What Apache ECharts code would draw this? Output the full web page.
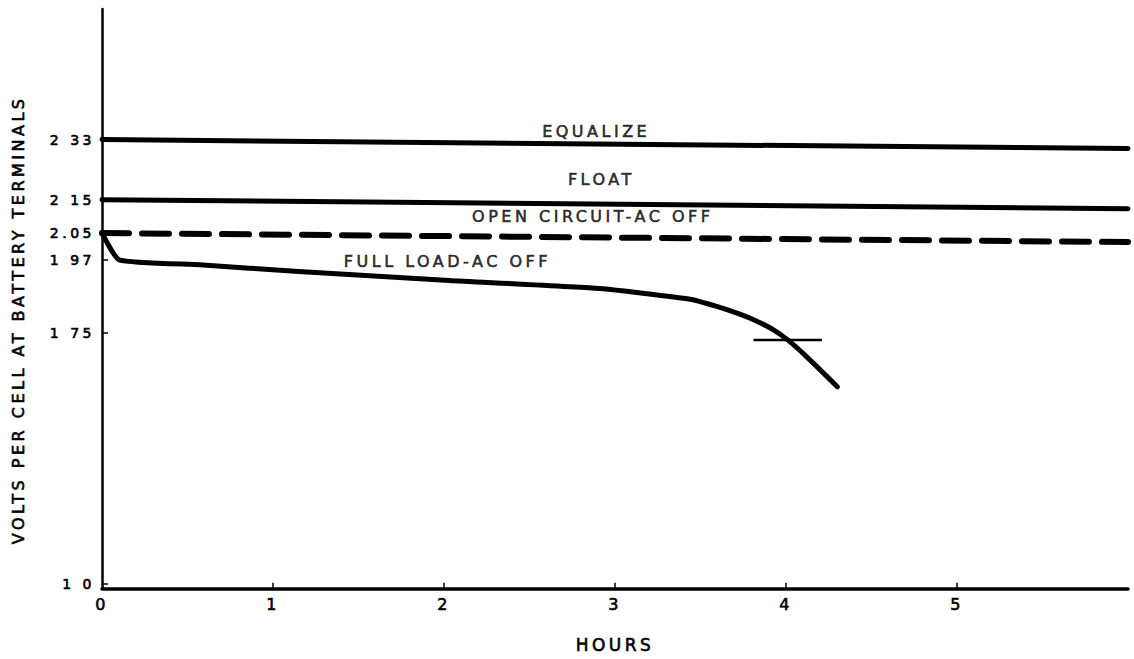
<!DOCTYPE html>
<html>
<head>
<meta charset="utf-8">
<script src="https://cdn.jsdelivr.net/npm/echarts@6/dist/echarts.min.js"></script>
<style>
  html, body { margin: 0; padding: 0; background: #fff; }
  #chart { width: 1134px; height: 659px; letter-spacing: 3.5px; }
</style>
</head>
<body>
<div id="chart"></div>
<script>
// ---- data ----
const xTickValues = [0, 1, 2, 3, 4, 5];
const xTickLabels = ['0', '1', '2', '3', '4', '5'];
const yTickValues = [1.0, 1.75, 1.97, 2.05, 2.15, 2.33];
const yTickLabels = ['1 0', '1 75', '1 97', '2.05', '2 15', '2 33'];

const levelHours = [0, 6];
const equalizeVolts = [2.33, 2.303];
const floatVolts = [2.15, 2.123];
const openCircuitVolts = [2.05, 2.023];

const fullLoadHours = [0, 0.1, 0.57, 1.15, 2.03, 2.91, 3.44, 3.59, 3.73, 3.83, 3.92, 4.01, 4.12, 4.30];
const fullLoadVolts = [2.05, 1.97, 1.955, 1.935, 1.908, 1.884, 1.852, 1.831, 1.807, 1.786, 1.762, 1.730, 1.680, 1.590];

const cutoffHours = [3.81, 4.21];
const cutoffVolts = [1.73, 1.73];

const curveNames = ['EQUALIZE', 'FLOAT', 'OPEN CIRCUIT-AC OFF', 'FULL LOAD-AC OFF'];
const curveNameHours = [2.89, 2.92, 2.87, 2.02];
const curveNameVolts = [2.355, 2.21, 2.101, 1.965];

// ---- chart ----
const FONT = 'DejaVu Sans';
const INK = { color: '#000', fontFamily: FONT, textBorderColor: '#000', textBorderWidth: 0.6 };
const zip = (xs, ys) => xs.map((x, i) => [x, ys[i]]);

const chart = echarts.init(document.getElementById('chart'), null, { renderer: 'svg' });
chart.setOption({
  backgroundColor: '#ffffff',
  animation: false,
  grid: { left: 102, right: 6, top: 9, bottom: 65, containLabel: false },
  xAxis: {
    type: 'value', min: 0, max: 6,
    name: 'HOURS', nameLocation: 'middle', nameGap: 48,
    nameTextStyle: Object.assign({ fontSize: 17 }, INK),
    axisLine: { show: true, lineStyle: { color: '#000', width: 3.5 } },
    axisTick: { show: true, inside: true, length: 6, customValues: [1, 2, 3, 4, 5], lineStyle: { color: '#000', width: 1.5 } },
    axisLabel: Object.assign({
      customValues: xTickValues, margin: 8, fontSize: 16,
      formatter: v => { const i = xTickValues.findIndex(t => Math.abs(t - v) < 1e-6); return i >= 0 ? xTickLabels[i] : ''; }
    }, INK),
    splitLine: { show: false }
  },
  yAxis: {
    type: 'value', min: 0.985, max: 2.721,
    name: 'VOLTS PER CELL AT BATTERY TERMINALS', nameLocation: 'middle', nameRotate: 90, nameGap: 76,
    nameTextStyle: Object.assign({ fontSize: 16, padding: [0, 42, 0, 0] }, INK),
    axisLine: { show: true, lineStyle: { color: '#000', width: 2.5 } },
    axisTick: { show: true, inside: true, length: 6, customValues: yTickValues, lineStyle: { color: '#000', width: 1.5 } },
    axisLabel: Object.assign({
      customValues: yTickValues, margin: 7, fontSize: 14,
      formatter: v => { const i = yTickValues.findIndex(t => Math.abs(t - v) < 1e-6); return i >= 0 ? yTickLabels[i] : ''; }
    }, INK),
    splitLine: { show: false }
  },
  series: [
    { name: 'Equalize', type: 'line', data: zip(levelHours, equalizeVolts), showSymbol: false, silent: true,
      lineStyle: { color: '#000', width: 5, cap: 'round' } },
    { name: 'Float', type: 'line', data: zip(levelHours, floatVolts), showSymbol: false, silent: true,
      lineStyle: { color: '#000', width: 5, cap: 'round' } },
    { name: 'Open circuit', type: 'line', data: zip(levelHours, openCircuitVolts), showSymbol: false, silent: true,
      lineStyle: { color: '#000', width: 6, type: [27, 13], cap: 'round' } },
    { name: 'Full load', type: 'line', data: zip(fullLoadHours, fullLoadVolts), showSymbol: false, silent: true,
      smooth: 0.15,
      lineStyle: { color: '#000', width: 5, cap: 'round', join: 'round' } },
    { name: 'Cutoff', type: 'line', data: zip(cutoffHours, cutoffVolts), showSymbol: false, silent: true,
      lineStyle: { color: '#000', width: 2.5 } },
    { name: 'Curve names', type: 'scatter', symbolSize: 0, silent: true,
      data: curveNames.map((n, i) => ({ name: n, value: [curveNameHours[i], curveNameVolts[i]] })),
      label: Object.assign({ show: true, position: 'inside', formatter: p => p.name, fontSize: 16 }, INK) }
  ]
});
</script>
</body>
</html>
